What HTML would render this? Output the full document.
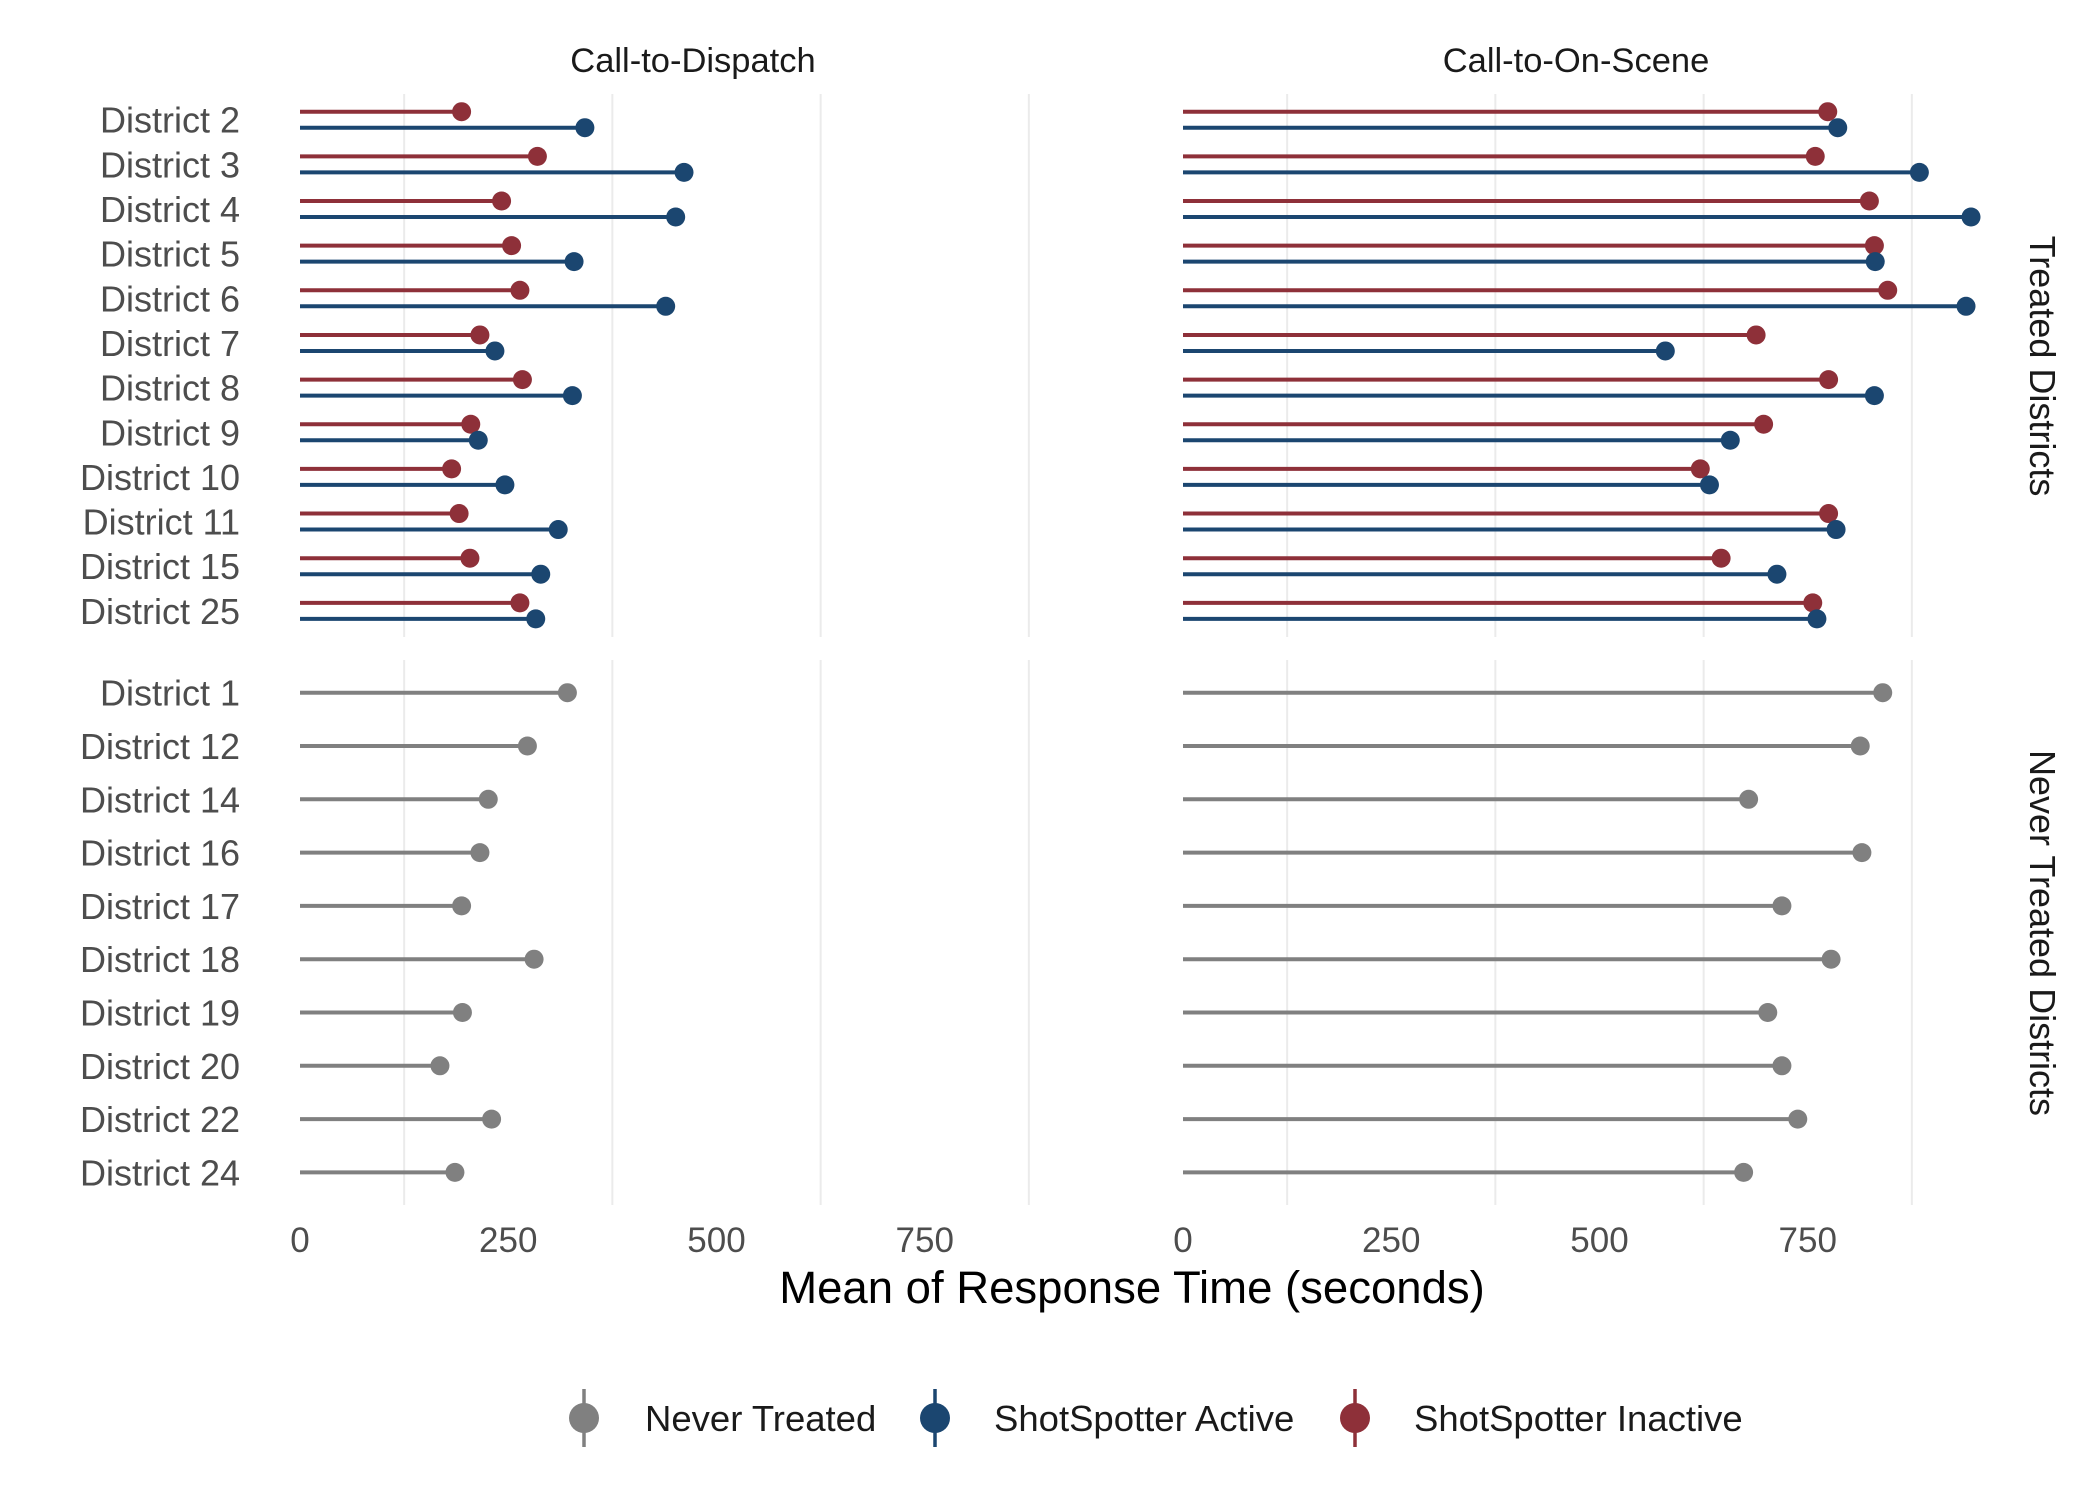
<!DOCTYPE html>
<html><head><meta charset="utf-8"><style>
html,body{margin:0;padding:0;background:#fff;}
svg{display:block;font-family:"Liberation Sans",Arial,sans-serif;}
</style></head><body>
<svg id="chart" width="2100" height="1500" viewBox="0 0 2100 1500">
<text x="693" y="72" font-size="34.5" fill="#1a1a1a" text-anchor="middle">Call-to-Dispatch</text>
<text x="1576" y="72" font-size="34.5" fill="#1a1a1a" text-anchor="middle">Call-to-On-Scene</text>
<text transform="translate(2030,366) rotate(90)" font-size="36" fill="#1a1a1a" text-anchor="middle">Treated Districts</text>
<text transform="translate(2030,933) rotate(90)" font-size="36" fill="#1a1a1a" text-anchor="middle">Never Treated Districts</text>
<text x="1132" y="1303" font-size="45.5" fill="#000" text-anchor="middle">Mean of Response Time (seconds)</text>
<g id="legend">
<g>
<line x1="584" y1="1389" x2="584" y2="1447" stroke="#808080" stroke-width="3.5"/><circle cx="584" cy="1418" r="15" fill="#808080"/>
<text x="645" y="1431" font-size="36.5" fill="#1a1a1a">Never Treated</text></g>
<g>
<line x1="935" y1="1389" x2="935" y2="1447" stroke="#1b4670" stroke-width="3.5"/><circle cx="935" cy="1418" r="15" fill="#1b4670"/>
<text x="994" y="1431" font-size="36.5" fill="#1a1a1a">ShotSpotter Active</text></g>
<g>
<line x1="1355" y1="1389" x2="1355" y2="1447" stroke="#8e3039" stroke-width="3.5"/><circle cx="1355" cy="1418" r="15" fill="#8e3039"/>
<text x="1414" y="1431" font-size="36.5" fill="#1a1a1a">ShotSpotter Inactive</text></g>
</g>
</svg>
<script>
const treatedDistricts = ["District 2","District 3","District 4","District 5","District 6","District 7","District 8","District 9","District 10","District 11","District 15","District 25"];
const neverDistricts = ["District 1","District 12","District 14","District 16","District 17","District 18","District 19","District 20","District 22","District 24"];
const dispatchInactive = [194,285,242,254,264,216,267,205,182,191,204,264];
const dispatchActive = [342,461,451,329,439,234,327,214,246,310,289,283];
const sceneInactive = [774,759,824,830,846,688,775,697,621,775,646,756];
const sceneActive = [786,884,946,831,940,579,830,657,632,784,713,761];
const dispatchNever = [321,273,226,216,194,281,195,168,230,186];
const sceneNever = [840,813,679,815,719,778,702,719,738,673];
const xTicks = [0,250,500,750];
const gridVals = [125,375,625,875];

const NS = "http://www.w3.org/2000/svg";
const svg = document.getElementById("chart");
const legend = document.getElementById("legend");
const RED = "#8e3039", BLUE = "#1b4670", GRAY = "#808080";
const panelsX = [300, 1183];
const PX = 0.833;
function xs(p, v){ return panelsX[p] + v * PX; }
function yTop(i){ return 119.7 + i * 44.65; }
function yBot(i){ return 692.7 + i * 53.3; }
function mk(tag, attrs){ const e = document.createElementNS(NS, tag); for (const k in attrs) e.setAttribute(k, attrs[k]); svg.insertBefore(e, legend); return e; }

for (let p = 0; p < 2; p++) {
  gridVals.forEach(g => {
    const l1 = mk("line", {x1: xs(p,g), x2: xs(p,g), y1: 94, y2: 637, stroke: "#ebebeb", "stroke-width": 2});
    
    
    const l2 = mk("line", {x1: xs(p,g), x2: xs(p,g), y1: 660, y2: 1205, stroke: "#ebebeb", "stroke-width": 2});
    
    
  });
  xTicks.forEach(t => {
    const tx = mk("text", {x: xs(p,t), y: 1252, "font-size": 35, fill: "#4d4d4d", "text-anchor": "middle"});
    tx.textContent = t;
    
    
  });
}
treatedDistricts.forEach((d, i) => {
  const t = mk("text", {x: 240, y: yTop(i) + 13, "font-size": 36, fill: "#4d4d4d", "text-anchor": "end"});
  t.textContent = d;
  
  
});
neverDistricts.forEach((d, i) => {
  const t = mk("text", {x: 240, y: yBot(i) + 13, "font-size": 36, fill: "#4d4d4d", "text-anchor": "end"});
  t.textContent = d;
  
  
});
function lolli(p, v, y, color, name){
  const l = mk("line", {x1: xs(p,0), x2: xs(p,v), y1: y, y2: y, stroke: color, "stroke-width": 4});
  
  
  const c = mk("circle", {cx: xs(p,v), cy: y, r: 9.5, fill: color});
  
  
}
treatedDistricts.forEach((d, i) => {
  lolli(0, dispatchInactive[i], yTop(i) - 8, RED, 'dispatch-inactive');
  lolli(0, dispatchActive[i], yTop(i) + 8, BLUE, 'dispatch-active');
  lolli(1, sceneInactive[i], yTop(i) - 8, RED, 'scene-inactive');
  lolli(1, sceneActive[i], yTop(i) + 8, BLUE, 'scene-active');
});
neverDistricts.forEach((d, i) => {
  lolli(0, dispatchNever[i], yBot(i), GRAY, 'dispatch-never');
  lolli(1, sceneNever[i], yBot(i), GRAY, 'scene-never');
});
</script>
</body></html>
